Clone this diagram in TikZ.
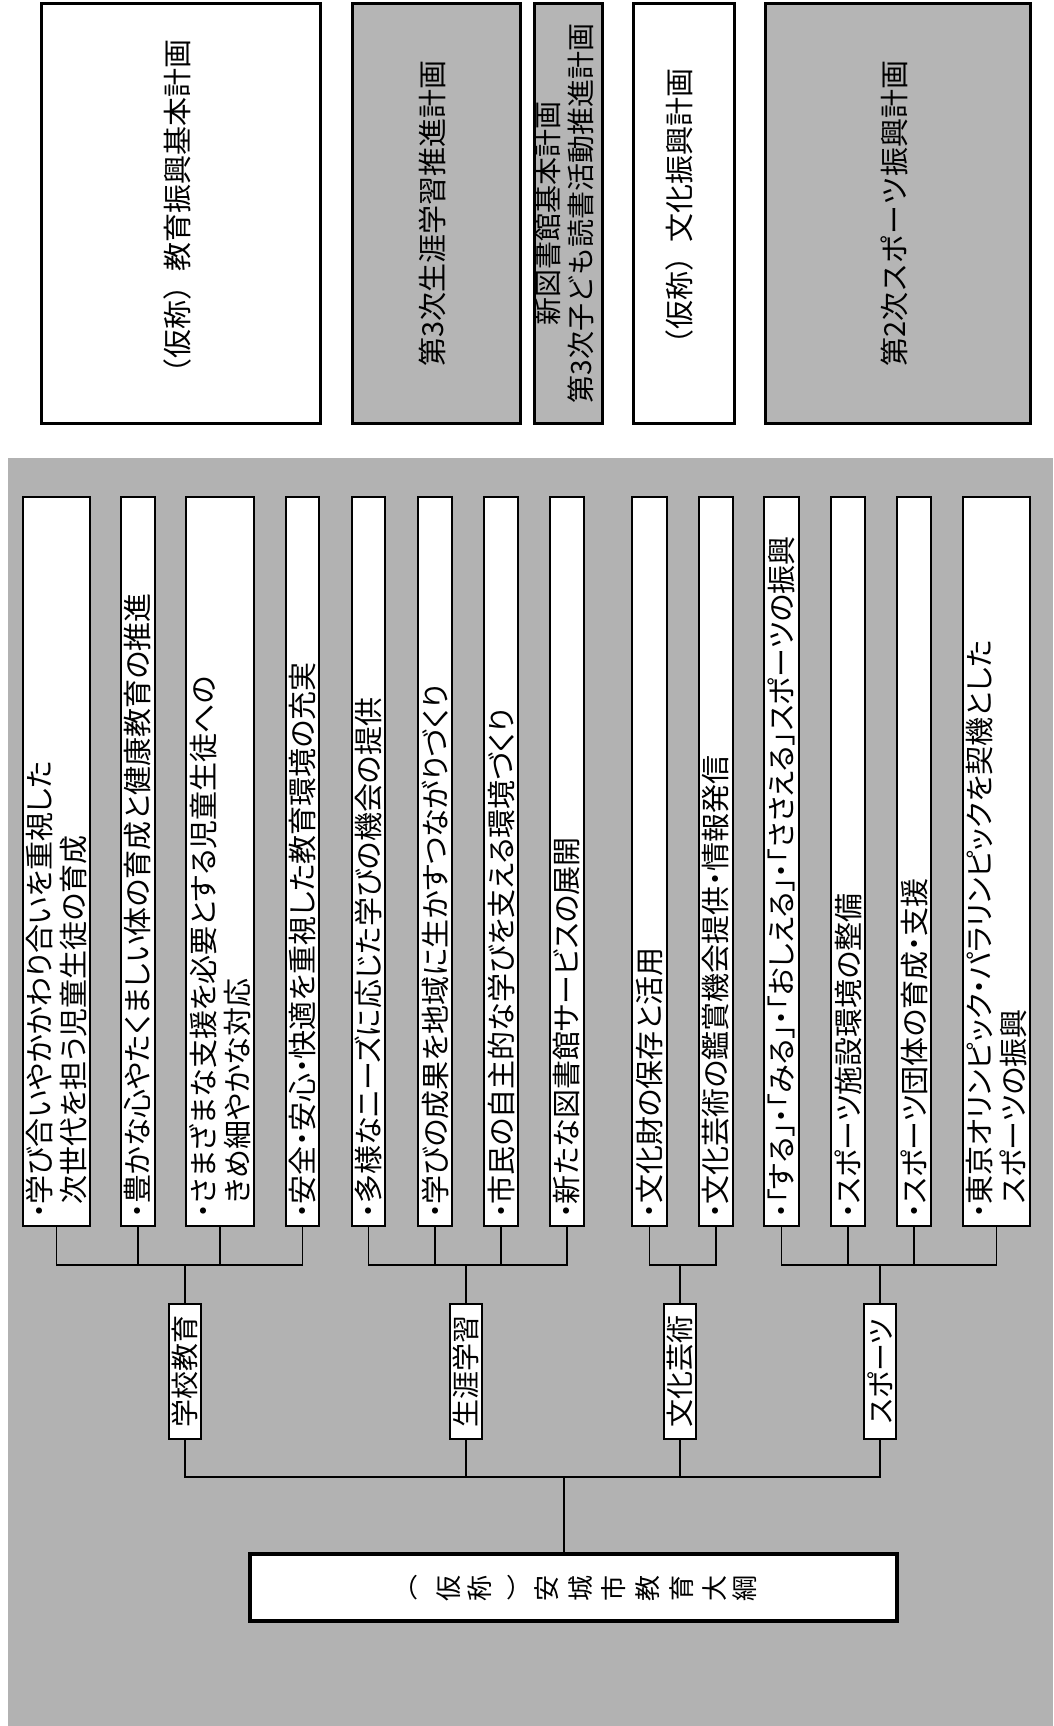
\documentclass[tikz,border=0pt]{standalone}
\usepackage{fontspec}
\newfontfamily\jp{Noto Sans CJK JP}
\newfontfamily\jpi{Noto Sans CJK JP}[RawFeature=+palt]
\definecolor{bggray}{gray}{0.70}
\definecolor{plangray}{gray}{0.71}
\tikzset{
  plan/.style={draw, line width=3pt, inner sep=0pt, minimum height=419, font=\jp\fontsize{29}{33}\selectfont},
  itembox/.style={draw, fill=white, line width=1.4pt, inner sep=0pt, minimum height=729, font=\jpi\fontsize{29}{34}\selectfont},
  groupbox/.style={draw, fill=white, line width=1.4pt, inner sep=0pt, minimum width=32, minimum height=135, font=\jpi\fontsize{28}{34}\selectfont},
  conn/.style={line width=1.6pt},
}
% 縦書き風（90度回転）テキスト
\newcommand\itemtxt[1]{\rotatebox{90}{\parbox{714pt}{\raggedright #1}}}
\newcommand\plantxt[1]{\rotatebox{90}{\begin{tabular}{@{}c@{}}#1\end{tabular}}}
\begin{document}
\begin{tikzpicture}[x=1pt, y=-1pt]
    \useasboundingbox (0,0) rectangle (1053,1726);

    % 上段：各計画
    \node[plan, fill=white, minimum width=279] (p1) at (181.3,213.5) {\plantxt{（仮称）教育振興基本計画}};
    \node[plan, fill=plangray, minimum width=168] (p2) at (436.5,213.5) {\plantxt{第3次生涯学習推進計画}};
    \node[plan, fill=plangray, minimum width=68, font=\jp\fontsize{28}{33}\selectfont] (p3) at (568,213.5) {\plantxt{新図書館基本計画\\第3次子ども読書活動推進計画}};
    \node[plan, fill=white, minimum width=101] (p4) at (683.5,213.5) {\plantxt{（仮称）文化振興計画}};
    \node[plan, fill=plangray, minimum width=265] (p5) at (898.3,213.5) {\plantxt{第2次スポーツ振興計画}};

    % 下段の背景
    \fill[bggray] (7.5,458) rectangle (1053,1726);

    % 施策（学校教育）
    \node[itembox, minimum width=67] (i1) at (56.5,861.5) {\itemtxt{・学び合いやかかわり合いを重視した\\\phantom{・}次世代を担う児童生徒の育成}};
    \node[itembox, minimum width=34] (i2) at (138,861.5) {\itemtxt{・豊かな心やたくましい体の育成と健康教育の推進}};
    \node[itembox, minimum width=68] (i3) at (220,861.5) {\itemtxt{・さまざまな支援を必要とする児童生徒への\\\phantom{・}きめ細やかな対応}};
    \node[itembox, minimum width=33] (i4) at (302.5,861.5) {\itemtxt{・安全・安心・快適を重視した教育環境の充実}};
    % 施策（生涯学習）
    \node[itembox, minimum width=33] (i5) at (368.5,861.5) {\itemtxt{・多様なニーズに応じた学びの機会の提供}};
    \node[itembox, minimum width=34] (i6) at (435,861.5) {\itemtxt{・学びの成果を地域に生かすつながりづくり}};
    \node[itembox, minimum width=34] (i7) at (501,861.5) {\itemtxt{・市民の自主的な学びを支える環境づくり}};
    \node[itembox, minimum width=34] (i8) at (567,861.5) {\itemtxt{・新たな図書館サービスの展開}};
    % 施策（文化芸術）
    \node[itembox, minimum width=35] (i9) at (649.5,861.5) {\itemtxt{・文化財の保存と活用}};
    \node[itembox, minimum width=34] (i10) at (716,861.5) {\itemtxt{・文化芸術の鑑賞機会提供・情報発信}};
    % 施策（スポーツ）
    \node[itembox, minimum width=35] (i11) at (781.5,861.5) {\itemtxt{・「する」・「みる」・「おしえる」・「ささえる」スポーツの振興}};
    \node[itembox, minimum width=34] (i12) at (848,861.5) {\itemtxt{・スポーツ施設環境の整備}};
    \node[itembox, minimum width=34] (i13) at (914,861.5) {\itemtxt{・スポーツ団体の育成・支援}};
    \node[itembox, minimum width=67] (i14) at (996.5,861.5) {\itemtxt{・東京オリンピック・パラリンピックを契機とした\\\phantom{・}スポーツの振興}};

    % 分野
    \node[groupbox] (g1) at (185,1371.5) {\rotatebox{90}{学校教育}};
    \node[groupbox] (g2) at (466,1371.5) {\rotatebox{90}{生涯学習}};
    \node[groupbox] (g3) at (680,1371.5) {\rotatebox{90}{文化芸術}};
    \node[groupbox] (g4) at (880,1371.5) {\rotatebox{90}{スポーツ}};

    % 大綱
    \node[draw, fill=white, line width=4pt, minimum width=647, minimum height=67, inner sep=0pt] (m) at (573.5,1587.5) {};
    \foreach \c/\xx/\r [count=\k] in {（/405/0, 仮/449/90, 称/480/90, ）/519/0, 安/547/90, 城/581/90,
                                     市/614/90, 教/648/90, 育/682/90, 大/715/90, 綱/745/90}
        \node[rotate=\r, inner sep=0pt, font=\jp\fontsize{26}{26}\selectfont] (mc\k) at (\xx,1588) {\c};

    % 施策と分野をつなぐ線
    \coordinate (b1) at (185,1265);
    \coordinate (b2) at (466,1265);
    \coordinate (b3) at (680,1265);
    \coordinate (b4) at (880,1265);
    \draw[conn] (i1.south) |- (i4.south |- b1) -- (i4.south);
    \draw[conn] (i2.south) -- (i2.south |- b1);
    \draw[conn] (i3.south) -- (i3.south |- b1);
    \draw[conn] (g1.north) -- (b1);
    \draw[conn] (i5.south) |- (i8.south |- b2) -- (i8.south);
    \draw[conn] (i6.south) -- (i6.south |- b2);
    \draw[conn] (i7.south) -- (i7.south |- b2);
    \draw[conn] (g2.north) -- (b2);
    \draw[conn] (i9.south) |- (i10.south |- b3) -- (i10.south);
    \draw[conn] (g3.north) -- (b3);
    \draw[conn] (i11.south) |- (i14.south |- b4) -- (i14.south);
    \draw[conn] (i12.south) -- (i12.south |- b4);
    \draw[conn] (i13.south) -- (i13.south |- b4);
    \draw[conn] (g4.north) -- (b4);

    % 分野と大綱をつなぐ線
    \coordinate (mb) at (564,1477);
    \draw[conn] (g1.south) |- (g4.south |- mb) -- (g4.south);
    \draw[conn] (g2.south) -- (g2.south |- mb);
    \draw[conn] (g3.south) -- (g3.south |- mb);
    \draw[conn] (mb) -- (mb |- m.north);

\end{tikzpicture}
\end{document}
